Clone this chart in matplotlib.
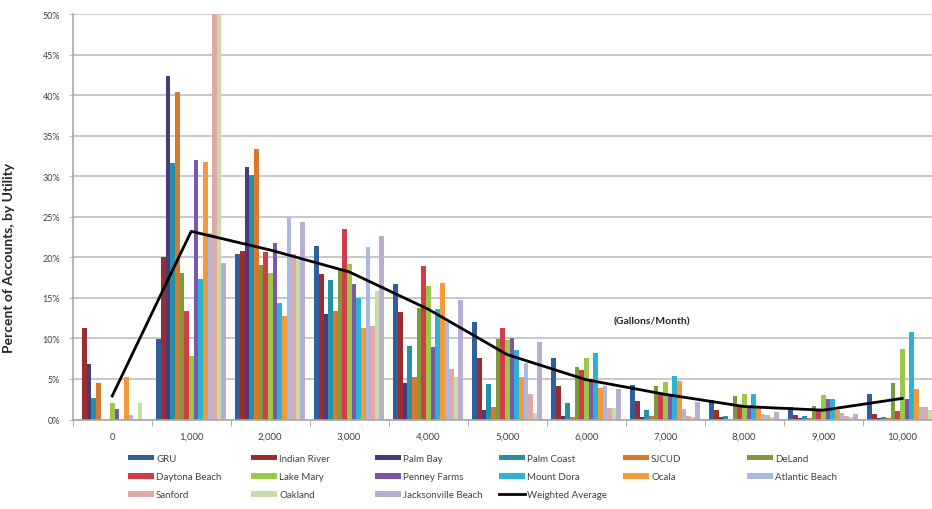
import numpy as np
import matplotlib.pyplot as plt
from matplotlib.patches import Patch
from matplotlib.lines import Line2D

plt.rcParams['font.family'] = ['Lato', 'DejaVu Sans']

# gallons/month bins
categories = ['0', '1,000', '2,000', '3,000', '4,000', '5,000',
              '6,000', '7,000', '8,000', '9,000', '10,000']

# percent of accounts per bin, by utility
gru = [0.0, 9.9, 20.4, 21.4, 16.7, 12.0, 7.6, 4.3, 2.4, 1.6, 3.2]
indian_river = [11.3, 20.0, 20.8, 17.9, 13.2, 7.6, 4.1, 2.3, 1.2, 0.5, 0.7]
palm_bay = [6.8, 42.4, 31.1, 13.0, 4.5, 1.2, 0.4, 0.3, 0.3, 0.2, 0.2]
palm_coast = [2.7, 31.6, 30.2, 17.2, 9.1, 4.4, 2.0, 1.2, 0.4, 0.4, 0.3]
sjcud = [4.5, 40.4, 33.4, 13.4, 5.3, 1.5, 0.3, 0.4, 0.1, 0.2, 0.2]
deland = [0.0, 18.1, 19.1, 18.4, 13.8, 9.9, 6.5, 4.1, 2.9, 1.7, 4.5]
daytona_beach = [0.0, 13.4, 20.6, 23.5, 18.9, 11.3, 6.1, 3.1, 1.5, 1.0, 1.0]
lake_mary = [2.0, 7.8, 18.1, 19.2, 16.5, 9.8, 7.6, 4.6, 3.2, 3.0, 8.7]
penney_farms = [1.3, 32.0, 21.8, 16.7, 8.9, 10.1, 5.0, 3.0, 1.7, 2.5, 2.5]
mount_dora = [0.0, 17.3, 14.4, 15.0, 13.6, 8.6, 8.2, 5.4, 3.2, 2.5, 10.8]
ocala = [5.3, 31.8, 12.8, 11.3, 16.8, 5.3, 3.9, 4.7, 1.5, 1.2, 3.8]
atlantic_beach = [0.6, 23.0, 24.9, 21.3, 12.0, 7.0, 4.1, 1.3, 0.7, 0.8, 1.6]
sanford = [0.0, 52.0, 20.4, 11.5, 6.2, 3.1, 1.4, 0.4, 0.5, 0.4, 1.5]
oakland = [2.0, 50.5, 19.7, 15.8, 5.3, 0.8, 1.4, 0.3, 0.3, 0.3, 1.2]
jacksonville_beach = [0.0, 19.3, 24.4, 22.6, 14.7, 9.5, 3.7, 2.1, 0.9, 0.7, 1.0]

weighted_average = [2.9, 23.2, 20.9, 18.2, 13.6, 8.0, 4.9, 3.1, 1.6, 1.15, 2.6]

utilities = ['GRU', 'Indian River', 'Palm Bay', 'Palm Coast', 'SJCUD', 'DeLand',
             'Daytona Beach', 'Lake Mary', 'Penney Farms', 'Mount Dora', 'Ocala',
             'Atlantic Beach', 'Sanford', 'Oakland', 'Jacksonville Beach']
series = [gru, indian_river, palm_bay, palm_coast, sjcud, deland,
          daytona_beach, lake_mary, penney_farms, mount_dora, ocala,
          atlantic_beach, sanford, oakland, jacksonville_beach]
colors = ['#2F5F9E', '#9B2D30', '#4B3A78', '#2690A8', '#D8782A', '#7F9A3A',
          '#D03C48', '#9BC848', '#7B58A8', '#2EB2D4', '#F5993A',
          '#A9B8DE', '#E0A8A8', '#C8DCA8', '#B8AED2']

W, H = 932, 510
fig = plt.figure(figsize=(W / 100, H / 100), dpi=100)
# plot area runs past the right edge, the source image is cropped there
ax = fig.add_axes([72.7 / W, (H - 420.5) / H, 869 / W, 405.5 / H])

x = np.arange(len(categories))
bw = 0.059
n = len(series)
for i, (vals, c) in enumerate(zip(series, colors)):
    ax.bar(x + (i - (n - 1) / 2) * bw, vals, width=bw, color=c, linewidth=0, zorder=2)

ax.plot(x, weighted_average, color='black', lw=2, zorder=3)

ax.set_xlim(-0.5, len(categories) - 0.5)
ax.set_ylim(0, 50)
ax.set_yticks(np.arange(0, 51, 5))
ax.set_yticklabels([f'{v}%' for v in range(0, 51, 5)])
ax.set_xticks(x)
ax.set_xticklabels(categories)
ax.set_xticks(np.arange(-0.5, len(categories)), minor=True)
ax.tick_params(axis='x', which='major', length=0, labelsize=7, colors='#404040', pad=9)
ax.tick_params(axis='x', which='minor', length=4, color='#A0A0A0')
ax.tick_params(axis='y', length=3, color='#BFBFBF', labelsize=6.5, labelcolor='#404040', pad=6)

ax.yaxis.grid(True, color='#C8C8C8', lw=1.4, zorder=0)
ax.set_axisbelow(True)
for s in ['top', 'right']:
    ax.spines[s].set_visible(False)
for s in ['left', 'bottom']:
    ax.spines[s].set_color('#A8A8A8')
    ax.spines[s].set_linewidth(1.2)

ax.set_ylabel('Percent of Accounts, by Utility', fontsize=10, fontweight='bold', color='#262626')
ax.yaxis.set_label_coords(-0.066, 0.40)

ax.text(6.83, 12.2, '(Gallons/Month)', ha='center', va='center',
        fontsize=7.5, fontweight='bold', color='#262626')

# legend: six columns, filled row by row like the Excel original
handles = [Patch(facecolor=c, edgecolor='none') for c in colors]
handles.append(Line2D([], [], color='black', lw=2))
labels = utilities + ['Weighted Average']
ncol = 6
col_x = [128, 251, 375, 499, 623, 747]
for j in range(ncol):
    idx = list(range(j, len(labels), ncol))
    leg = fig.legend([handles[k] for k in idx], [labels[k] for k in idx],
                     loc='upper left', bbox_to_anchor=(col_x[j] / W, (H - 455) / H),
                     frameon=False, fontsize=7, handlelength=2.7, handleheight=0.55,
                     handletextpad=0.2, labelspacing=0.95, borderpad=0, borderaxespad=0)
    for t in leg.get_texts():
        t.set_color('#404040')

fig.savefig('out.png', dpi=100)
